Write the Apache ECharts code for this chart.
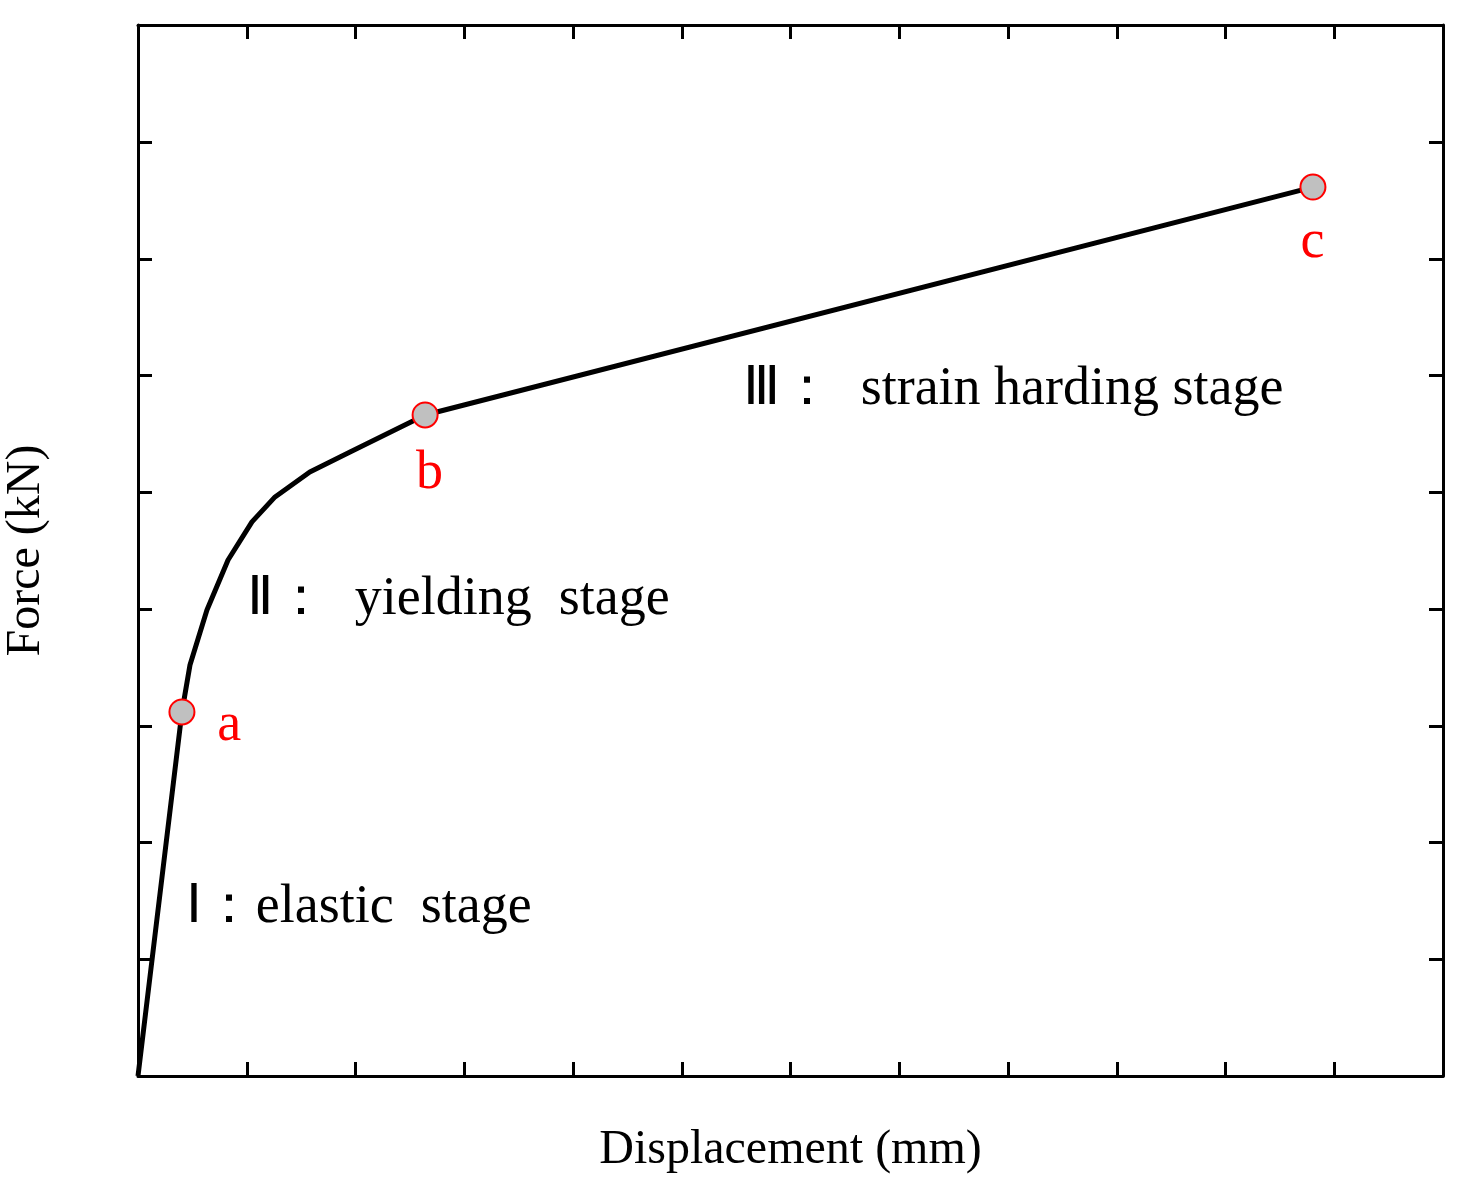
<!DOCTYPE html>
<html><head><meta charset="utf-8">
<script src="https://cdn.jsdelivr.net/npm/echarts@6/dist/echarts.min.js"></script>
<style>html,body{margin:0;padding:0;background:#fff}#c{width:1464px;height:1189px}</style>
</head><body><div id="c"></div>
<script>
const curveX = [0, 0.202, 0.239, 0.317, 0.414, 0.524, 0.63, 0.79, 0.975, 1.32, 5.402];
const curveY = [0, 1.559, 1.76, 1.996, 2.21, 2.373, 2.48, 2.587, 2.672, 2.831, 3.807];
const keyNames = ['a', 'b', 'c'];
const keyX = [0.202, 1.32, 5.402];
const keyY = [1.559, 2.831, 3.807];
const stageTexts = ['Ⅰ：elastic  stage', 'Ⅱ：  yielding  stage', 'Ⅲ：  strain harding stage'];

const font = '"Liberation Serif", "Times New Roman", serif';
const chart = echarts.init(document.getElementById('c'));
function ax(pos, isX, show) {
  const o = {
    type: 'value', position: pos, min: 0, max: isX ? 1305/217.5 : 1051/233.5, interval: 1,
    axisLine: {show: true, onZero: false, lineStyle: {color: '#000', width: 3}},
    axisTick: {show: true, inside: true, length: 14, lineStyle: {color: '#000', width: 3}},
    minorTick: {show: true, splitNumber: 2, length: 14, lineStyle: {color: '#000', width: 3}},
    axisLabel: {show: false}, splitLine: {show: false}
  };
  if (show) {
    o.name = isX ? 'Displacement (mm)' : 'Force (kN)';
    o.nameLocation = 'middle';
    o.nameGap = isX ? 50 : 88;
    o.nameTextStyle = {fontFamily: font, fontSize: 48, color: '#000'};
  }
  return o;
}
const labelPos = [[0.42,1.5],[1.34,2.58],[5.4,3.57]];
chart.setOption({
  animation: false,
  grid: {left: 138, right: 21, top: 25, bottom: 113, outerBoundsMode: 'none', containLabel: false},
  xAxis: [ax('bottom', true, true), ax('top', true, false)],
  yAxis: [ax('left', false, true), ax('right', false, false)],
  series: [
    {type: 'line', data: curveX.map((x,i)=>[x, curveY[i]]), symbol: 'none', z: 2,
     lineStyle: {color: '#000', width: 5}},
    {type: 'scatter', data: keyX.map((x,i)=>({value:[x, keyY[i]], name: keyNames[i]})), z: 5,
     symbolSize: 25, itemStyle: {color: '#c0c0c0', borderColor: '#ff0000', borderWidth: 2, opacity: 1}},
    {type: 'scatter', symbolSize: 0, itemStyle: {opacity: 1},
     data: keyNames.map((n,i)=>({value: labelPos[i], name: n})),
     label: {show: true, position: 'inside', formatter: p=>p.name, fontFamily: font, fontSize: 54, color: '#ff0000'}},
    {type: 'scatter', symbolSize: 0, itemStyle: {opacity: 1},
     data: [[0.22,0.72],[0.5,2.04],[2.78,2.94]].map((v,i)=>({value: v, name: stageTexts[i]})),
     label: {show: true, position: 'right', distance: 0, formatter: p=>p.name, fontFamily: font, fontSize: 54, color: '#000'}}
  ]
});
</script></body></html>
